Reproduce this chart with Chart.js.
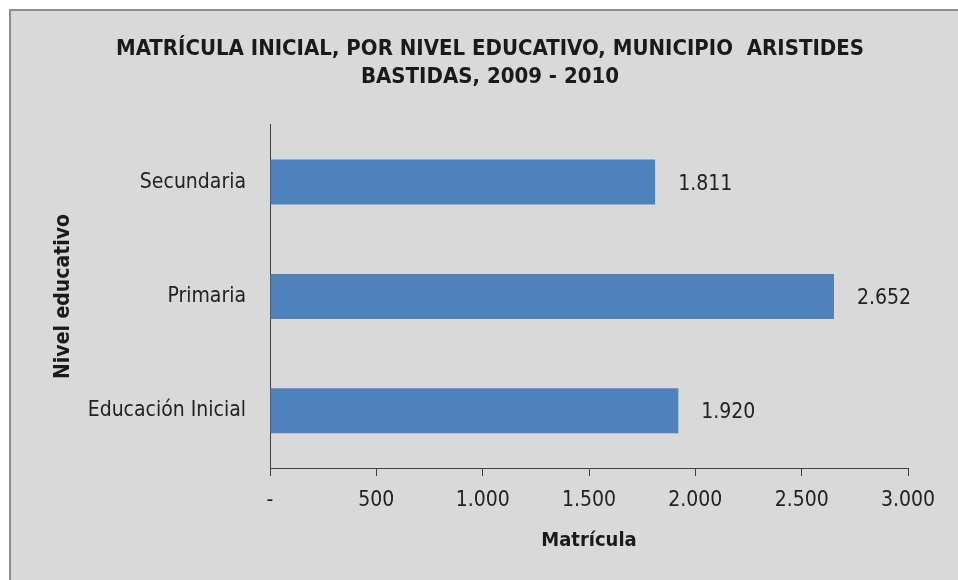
<!DOCTYPE html>
<html>
<head>
<meta charset="utf-8">
<script src="https://cdn.jsdelivr.net/npm/chart.js@4.4.1/dist/chart.umd.min.js"></script>
<style>
    html, body { margin: 0; background: #fff; overflow: hidden; }
    #marco {
        position: absolute; left: 9px; top: 9px;
        width: 949px; height: 571px;
        border-left: 2px solid #8c8c8c; border-top: 2px solid #8c8c8c;
        background: #d9d9d9;
    }
    #marco canvas { display: block; }
</style>
</head>
<body>
<div id="marco"><canvas id="grafico" width="947" height="569"></canvas></div>
<script>
var niveles = ["Secundaria", "Primaria", "Educación Inicial"];
var matricula = [1811, 2652, 1920];
var tituloLineas = ["MATRÍCULA INICIAL, POR NIVEL EDUCATIVO, MUNICIPIO  ARISTIDES", "BASTIDAS, 2009 - 2010"];
var tituloEjeX = "Matrícula";
var tituloEjeY = "Nivel educativo";

var fuente = "'Liberation Sans Narrow', 'DejaVu Sans Condensed', 'Arial Narrow', sans-serif";

function formatoMiles(v) {
    if (v === 0) return "-";
    return String(v).replace(/\B(?=(\d{3})+(?!\d))/g, ".");
}

// etiquetas con el valor a la derecha de cada barra
var etiquetasValor = {
    id: "etiquetasValor",
    afterDatasetsDraw: function (chart) {
        const ctx = chart.ctx;
        const meta = chart.getDatasetMeta(0);
        ctx.save();
        ctx.font = "21px " + fuente;
        ctx.fillStyle = "#222";
        ctx.textAlign = "left";
        ctx.textBaseline = "middle";
        meta.data.forEach((barra, i) => {
            ctx.fillText(formatoMiles(matricula[i]), barra.x + 23, barra.y + 2);
        });
        ctx.restore();
    }
};

// centrar el titulo sobre todo el lienzo, no solo sobre el area con padding
var centrarTitulo = {
    id: "centrarTitulo",
    afterLayout: function (chart) {
        if (chart.titleBlock) {
            chart.titleBlock.left = 0;
            chart.titleBlock.right = 958;
            chart.titleBlock.width = 958;
        }
    }
};

new Chart(document.getElementById("grafico"), {
    type: "bar",
    data: {
        labels: niveles,
        datasets: [{
            data: matricula,
            backgroundColor: "#4f81bd",
            borderWidth: 0,
            categoryPercentage: 1,
            barPercentage: 0.394
        }]
    },
    plugins: [etiquetasValor, centrarTitulo],
    options: {
        indexAxis: "y",
        responsive: false,
        animation: false,
        layout: { padding: { left: 0, right: 50, top: 0, bottom: 0 } },
        plugins: {
            legend: { display: false },
            tooltip: { enabled: false },
            title: {
                display: true,
                text: tituloLineas,
                color: "#1a1a1a",
                font: { family: fuente, size: 22, weight: "bold", lineHeight: 1.27 },
                padding: { top: 24, bottom: 34 }
            }
        },
        scales: {
            x: {
                min: 0,
                max: 3000,
                ticks: {
                    stepSize: 500,
                    color: "#222",
                    font: { family: fuente, size: 21 },
                    padding: 12,
                    maxRotation: 0,
                    callback: function (v) { return formatoMiles(v); }
                },
                grid: { drawOnChartArea: false, drawTicks: true, tickLength: 8, color: "#404040" },
                border: { color: "#404040", width: 1 },
                title: {
                    display: true,
                    text: tituloEjeX,
                    color: "#1a1a1a",
                    font: { family: fuente, size: 20, weight: "bold" },
                    padding: { top: 0, bottom: 27 }
                },
                afterFit: function (escala) { escala.height = 112; }
            },
            y: {
                ticks: {
                    color: "#222",
                    font: { family: fuente, size: 21 },
                    padding: 24
                },
                grid: { drawOnChartArea: false, drawTicks: false },
                border: { color: "#404040", width: 1 },
                title: {
                    display: true,
                    text: tituloEjeY,
                    color: "#1a1a1a",
                    font: { family: fuente, size: 21, weight: "bold" },
                    padding: { top: 40, bottom: 40 }
                },
                afterFit: function (escala) { escala.width = 259; }
            }
        }
    }
});
</script>
</body>
</html>
